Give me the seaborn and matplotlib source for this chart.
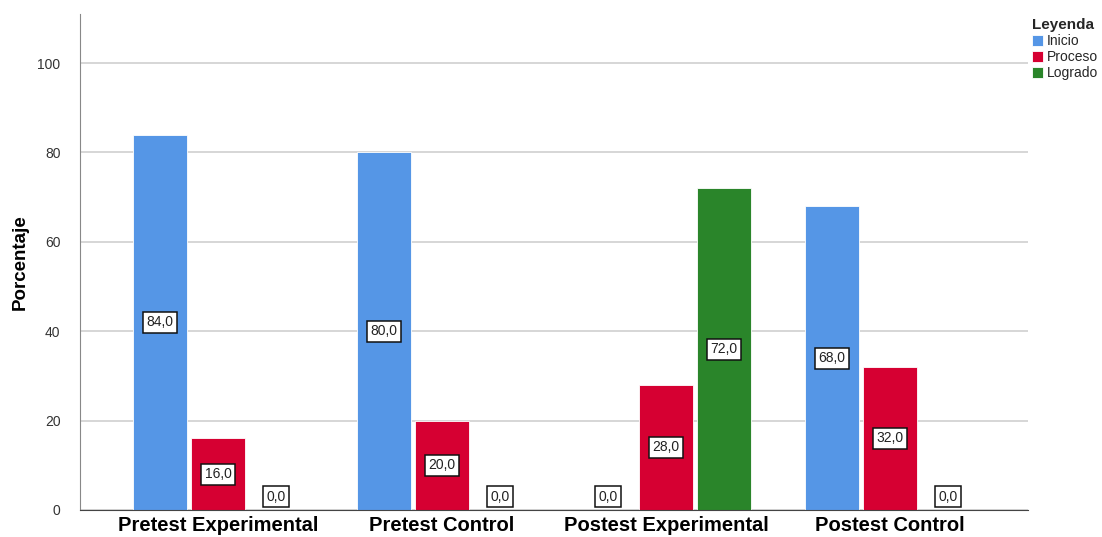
import pandas as pd
import seaborn as sns
import matplotlib.pyplot as plt

groups = ["Pretest Experimental", "Pretest Control", "Postest Experimental", "Postest Control"]
levels = ["Inicio", "Proceso", "Logrado"]
inicio = [84.0, 80.0, 0.0, 68.0]
proceso = [16.0, 20.0, 28.0, 32.0]
logrado = [0.0, 0.0, 72.0, 0.0]
colors = ["#5596E6", "#D60032", "#2A852A"]

# long form table for seaborn
rows = []
for lvl, vals in zip(levels, [inicio, proceso, logrado]):
    for g, v in zip(groups, vals):
        rows.append({"grupo": g, "nivel": lvl, "pct": v})
df = pd.DataFrame(rows)

sns.set_style("white")
plt.rcParams["font.family"] = ["Liberation Sans", "DejaVu Sans"]

fig = plt.figure(figsize=(11.02, 5.37), dpi=100)
ax = fig.add_axes([0.0726, 0.0503, 0.8602, 0.9237])

sns.barplot(data=df, x="grupo", y="pct", hue="nivel", order=groups,
            hue_order=levels, palette=colors, saturation=1, width=0.78, gap=0.08,
            edgecolor="white", linewidth=0.6, ax=ax)

# value labels in boxes
for container, lvl in zip(ax.containers, levels):
    for bar, v in zip(container, df[df["nivel"] == lvl]["pct"]):
        xc = bar.get_x() + bar.get_width() / 2
        yc = max(v / 2, 3.0)
        ax.text(xc, yc, f"{v:.1f}".replace(".", ","), ha="center", va="center",
                fontsize=10, color="#222222",
                bbox=dict(boxstyle="square,pad=0.25", fc="white", ec="#111111", lw=1.1))

ax.set_ylim(0, 111)
ax.set_xlim(-0.616, 3.616)
ax.set_yticks([0, 20, 40, 60, 80, 100])
ax.yaxis.grid(True, color="#d0d0d0", lw=1.2)
ax.set_axisbelow(True)
ax.tick_params(axis="y", length=0, labelsize=10, pad=14, colors="#333333")
ax.tick_params(axis="x", length=0, labelsize=14.5, pad=4.5, colors="black")
for t in ax.get_xticklabels():
    t.set_fontweight("bold")
ax.set_xlabel("")
ax.set_ylabel("Porcentaje", fontsize=13.5, fontweight="bold", labelpad=6, color="black")

for s in ["top", "right"]:
    ax.spines[s].set_visible(False)
ax.spines["left"].set_color("#888888")
ax.spines["bottom"].set_color("#444444")

leg = ax.legend(title="Leyenda", loc="upper left", bbox_to_anchor=(1.0, 1.0),
                frameon=False, fontsize=10, title_fontsize=11, alignment="left",
                handlelength=0.8, handleheight=0.8, handletextpad=0.25,
                labelspacing=0.15, borderaxespad=0.1, borderpad=0.2)
leg.get_title().set_fontweight("bold")

fig.savefig("out.png", dpi=100)
